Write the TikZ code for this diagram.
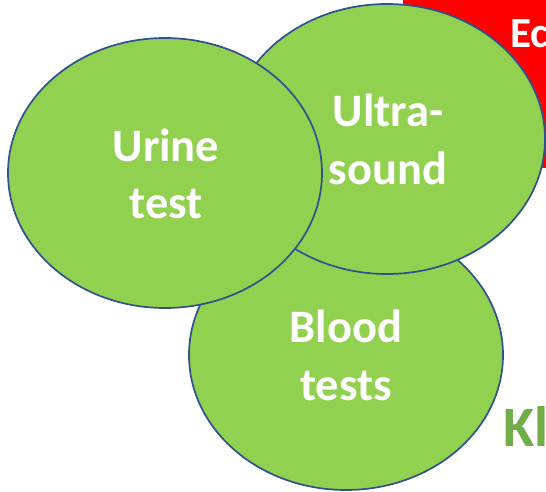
\documentclass[tikz,border=0pt]{standalone}
\usepackage{fontspec}
\setmainfont{Carlito}
\usetikzlibrary{shapes.geometric}
\definecolor{leaf}{HTML}{92D050}
\definecolor{rim}{HTML}{2F528F}
\definecolor{darkleaf}{HTML}{70AD47}
\definecolor{alarm}{HTML}{FF0000}
\tikzset{
  testell/.style={ellipse, draw=rim, fill=leaf, line width=1.7pt, inner sep=0pt,
    minimum width=314pt, minimum height=270pt},
  lbl/.style={anchor=base, inner sep=0pt, text=white, font=\bfseries\fontsize{46.5}{57}\selectfont},
}
\begin{document}
\begin{tikzpicture}[x=1pt,y=-1pt]
\path[use as bounding box] (0,0) rectangle (546,492);
\clip (0,0) rectangle (546,492);
\fill[alarm] (403,-10) rectangle (570,168);
\node[anchor=base west, inner sep=0pt, text=white, font=\bfseries\fontsize{43}{52}\selectfont] (ec) at (510,48) {Ec};
\node[anchor=base west, inner sep=0pt, text=darkleaf, font=\bfseries\fontsize{57}{68}\selectfont] (kl) at (503,446) {Kl};
\node[testell] (blood) at (346,355) {};
\node[testell, minimum width=316pt] (ultra) at (387,139) {};
\node[testell] (urine) at (165,173) {};
\node[lbl] (urine1) at (166,161) {Urine};
\node[lbl] (urine2) at (166,218) {test};
\node[lbl] (ultra1) at (388,127) {Ultra-};
\node[lbl] (ultra2) at (388,184) {sound};
\node[lbl] (blood1) at (346,342) {Blood};
\node[lbl] (blood2) at (346,400) {tests};
\end{tikzpicture}
\end{document}
